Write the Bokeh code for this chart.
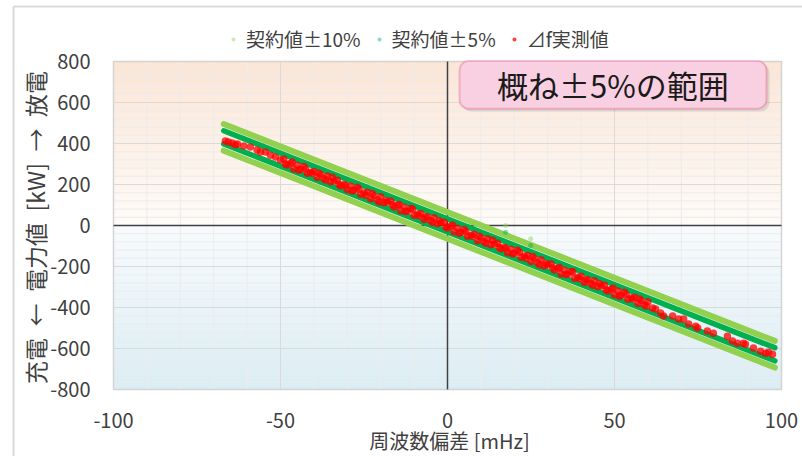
import math
from bokeh.plotting import figure
from bokeh.models import Range1d, BoxAnnotation, Legend, LegendItem
from bokeh.core.properties import value
from bokeh.embed import file_html
from bokeh.resources import INLINE

# ---------------- data ----------------
x_ticks = [-100, -50, 0, 50, 100]
x_tick_labels = ["-100", "-50", "0", "50", "100"]
y_ticks = [-800, -600, -400, -200, 0, 200, 400, 600, 800]
y_tick_labels = ["-800", "-600", "-400", "-200", "0", "200", "400", "600", "800"]
x_title = "周波数偏差 [mHz]"
y_title = "充電\u2002←\u2002電力値\u2002[kW]\u2002→\u2002放電"
note_text = "概ね±5%の範囲"
labels = ["契約値±10%", "契約値±5%", "⊿f実測値"]

# contract value bands (end points of each band)
band_df = [-67, 98]
c10_upper = [495, -563]
c5_upper = [462, -596]
c5_lower = [398, -660]
c10_lower = [365, -693]

# isolated contract-value points
stray10_df = [17.4, 24.9]
stray10_kw = [0, -65]
stray5_df = [17.4, 24.9]
stray5_kw = [-33, -98]

# measured values (Δf [mHz], P [kW])
meas_df = [
    -66.5, -65.6, -64.4, -63.5, -62.9, -61, -59, -57, -56, -54.5, -53, -51.5, -50,
    -49, -48, -47, -46, -45, -44, -43, -42, -41, -40, -39, -38, -37, -36, -35, -34,
    -33, -32, -31, -30, -29, -28, -27, -26, -25, -24, -23, -22, -21, -20, -19, -18,
    -17, -16, -15, -14, -13, -12, -11, -10, -9, -8, -7, -6, -5, -4, -3, -2, -1, 0,
    1, 2, 3, 4, 5, 6, 7, 8, 9, 10, 11, 12, 13, 14, 15, 16, 17, 18, 19, 20, 21, 22,
    23, 24, 25, 26, 27, 28, 29, 30, 31, 32, 33, 34, 35, 36, 37, 38, 39, 40, 41, 42,
    43, 44, 45, 46, 47, 48, 49, 50, 51, 52, 53, 54, 55, 56, 57, 58, 59, 60,
    -48.5, -46.5, -44.5, -42.5, -40.5, -38.5, -36.5, -34.5, -32.5, -30.5, -28.5,
    -26.5, -24.5, -22.5, -20.5, -18.5, -16.5, -14.5, -12.5, -10.5, -8.5, -6.5,
    -4.5, -2.5, -0.5, 1.5, 3.5, 5.5, 7.5, 9.5, 11.5, 13.5, 15.5, 17.5, 19.5, 21.5,
    23.5, 25.5, 27.5, 29.5, 31.5, 33.5, 35.5, 37.5, 39.5, 41.5, 43.5, 45.5, 47.5,
    49.5, 51.5, 53.5, 55.5, 57.5, 59.5,
    61.4, 62.3, 63.8, 64.7, 67.4, 69.2, 70.7, 72.2, 74.3, 74.9, 77.8, 79.6, 83.8,
    85.3, 86.8, 88.6, 89.2, 91.6, 93.7, 95.2, 96.1, 97.3,
]
meas_kw = [
    412, 407, 402, 394, 397, 388, 383, 368, 358, 358, 343, 334, 319,
    324, 295, 303, 276, 294, 276, 288, 255, 260, 264, 234, 247, 229, 242, 213, 218,
    221, 193, 200, 174, 192, 173, 186, 152, 158, 162, 131, 145, 126, 140, 111, 115,
    119, 90, 98, 72, 89, 71, 83, 50, 56, 59, 29, 42, 24, 38, 8, 13, 16, -12,
    -4, -31, -13, -32, -19, -52, -47, -43, -74, -60, -78, -65, -94, -90, -86, -114,
    -107, -133, -116, -134, -121, -155, -149, -146, -176, -162, -181, -167, -197,
    -192, -188, -217, -209, -236, -218, -236, -224, -257, -252, -248, -278, -265,
    -283, -270, -299, -294, -291, -319, -312, -338, -320, -339, -326, -360, -354,
    -350, -381, -367, -386, -372,
    300, 310, 269, 276, 255, 255, 222, 235, 201, 196, 168, 177, 147, 156, 115, 122,
    102, 102, 68, 81, 47, 43, 15, 23, -7, 2, -38, -31, -52, -52, -86, -72, -106,
    -111, -139, -131, -160, -151, -192, -185, -206, -205, -239, -226, -260, -265,
    -292, -284, -314, -305, -346, -338, -359, -359, -393,
    -402, -407, -427, -442, -442, -456, -456, -481, -491, -500, -515, -525, -540,
    -564, -574, -574, -579, -598, -613, -623, -618, -628,
]

FONT = "Noto Sans CJK JP"
TXT = "#404040"

# ---------------- layout (frame = whole canvas) ----------------
W, H = 802, 456
XMIN, XMAX, YMIN, YMAX = -100, 100, -800, 800
PL, PR, PT, PB = 113, 781, 61, 389          # plot-area pixel box
ux = (XMAX - XMIN) / (PR - PL)
uy = (YMAX - YMIN) / (PB - PT)
def dx(px): return XMIN + (px - PL) * ux
def dy(py): return YMAX - (py - PT) * uy

p = figure(width=W, height=H, output_backend="svg", toolbar_location=None,
           x_range=Range1d(dx(0), dx(W)), y_range=Range1d(dy(H), dy(0)),
           x_axis_location=None, y_axis_location=None, min_border=0)
p.background_fill_color = "white"
p.border_fill_color = "white"
p.outline_line_color = None
p.grid.grid_line_color = None

# chart border (light gray, top and left)
p.segment(x0=[dx(13), dx(13)], y0=[dy(6), dy(6)], x1=[dx(W), dx(13)], y1=[dy(6), dy(H)],
          line_color="#d9d9d9", line_width=2)

# background gradient (peach above zero, light blue below zero)
n = 40
top_c0, top_c1 = (254, 251, 248), (251, 229, 213)
bot_c0, bot_c1 = (248, 251, 253), (218, 237, 244)
def mix(a, b, t):
    return "#%02x%02x%02x" % tuple(int(round(a[k] + (b[k] - a[k]) * t)) for k in range(3))
bots, tops, cols = [], [], []
for i in range(n):
    t = (i + 0.5) / n
    bots.append(YMAX * i / n); tops.append(YMAX * (i + 1) / n); cols.append(mix(top_c0, top_c1, t))
    bots.append(YMIN * (i + 1) / n); tops.append(YMIN * i / n); cols.append(mix(bot_c0, bot_c1, t))
p.quad(left=XMIN, right=XMAX, bottom=bots, top=tops, fill_color=cols, line_color=cols,
       line_width=0.6)

# grid lines
vx_minor = [v for v in range(-90, 100, 10) if v % 50]
vx_major = [-50, 50]
hy_minor = [v for v in range(-760, 800, 40) if v % 200]
hy_major = [-600, -400, -200, 200, 400, 600]
p.segment(x0=vx_minor, y0=YMIN, x1=vx_minor, y1=YMAX, line_color="#ececec", line_width=1)
p.segment(x0=XMIN, y0=hy_minor, x1=XMAX, y1=hy_minor, line_color="#ececec", line_width=1)
p.segment(x0=vx_major, y0=YMIN, x1=vx_major, y1=YMAX, line_color="#dadada", line_width=1)
p.segment(x0=XMIN, y0=hy_major, x1=XMAX, y1=hy_major, line_color="#dadada", line_width=1)
p.quad(left=XMIN, right=XMAX, bottom=YMIN, top=YMAX, fill_color=None,
       line_color="#d4d4d4", line_width=1.5)
# zero axes
p.segment(x0=[0, XMIN], y0=[YMIN, 0], x1=[0, XMAX], y1=[YMAX, 0],
          line_color="#404040", line_width=1.5)

# bands
LG, DG = "#92d050", "#00b050"
for ys in (c10_upper, c10_lower):
    p.line(band_df, ys, line_color=LG, line_width=6, line_cap="round")
for ys in (c5_upper, c5_lower):
    p.line(band_df, ys, line_color=DG, line_width=5.5, line_cap="round")
r10 = p.scatter(stray10_df, stray10_kw, size=5, color=LG, alpha=0.45, line_color=None)
r5 = p.scatter(stray5_df, stray5_kw, size=5, color=DG, alpha=0.45, line_color=None)

# measured
rm = p.scatter(meas_df, meas_kw, size=7.5, color="#ff0000", alpha=0.75, line_color=None)

# tick labels and axis titles
p.text(x=[XMIN] * len(y_ticks), y=y_ticks, text=y_tick_labels, x_offset=-23,
       text_align="right", text_baseline="middle", text_font=value(FONT),
       text_font_size="20px", text_color=TXT)
p.text(x=x_ticks, y=[YMIN] * len(x_ticks), text=x_tick_labels, y_offset=31,
       text_align="center", text_baseline="middle", text_font=value(FONT),
       text_font_size="20px", text_color=TXT)
p.text(x=[0], y=[YMIN], text=[x_title], x_offset=2, y_offset=51,
       text_align="center", text_baseline="middle", text_font=value(FONT),
       text_font_size="20px", text_color=TXT)
p.text(x=[XMIN], y=[0], text=[y_title], x_offset=-79, y_offset=2, angle=math.pi / 2,
       text_align="center", text_baseline="middle", text_font=value(FONT),
       text_font_size="23px", text_color=TXT)

# annotation box
p.add_layout(BoxAnnotation(left=4.4, right=96.4, bottom=556, top=790, fill_color="#000000",
                           fill_alpha=0.10, line_color=None, border_radius=9))
p.add_layout(BoxAnnotation(left=3.6, right=95.5, bottom=570, top=802, fill_color="#f8d0e2",
                           fill_alpha=1, line_color="#e0447f", line_width=2, border_radius=9))
p.text(x=[49.5], y=[686], text=[note_text], text_align="center", text_baseline="middle",
       text_font=value(FONT), text_font_size="31px", text_color="#1a1a1a", level="overlay")

# legend (above the plot area)
legend = Legend(items=[LegendItem(label=labels[0], renderers=[r10]),
                       LegendItem(label=labels[1], renderers=[r5]),
                       LegendItem(label=labels[2], renderers=[rm])],
                orientation="horizontal", location=(228, 404),
                label_text_font=FONT, label_text_font_size="19px", label_text_color=TXT,
                glyph_width=10, glyph_height=10, label_standoff=8, spacing=13,
                padding=0, margin=0, border_line_color=None, background_fill_alpha=0)
p.add_layout(legend, "center")

open("out.html", "w").write(file_html(p, INLINE))
